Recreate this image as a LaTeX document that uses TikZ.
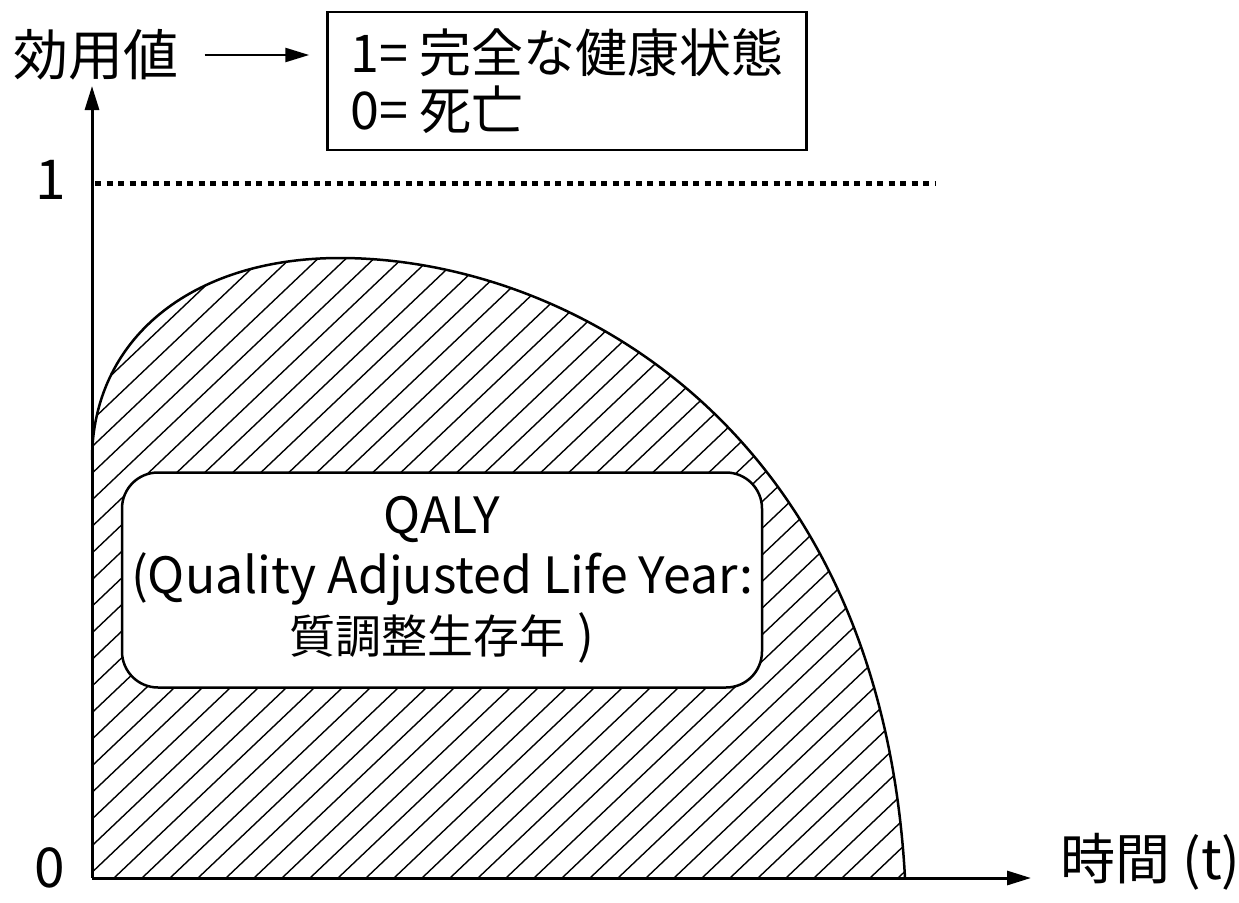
\documentclass[tikz,border=0pt]{standalone}
\usepackage{fontspec}
\setmainfont{Noto Sans CJK JP}
\usetikzlibrary{arrows.meta,positioning,calc}

\begin{document}
\begin{tikzpicture}[x=1pt,y=-1pt,
	axis/.style={line width=3pt,-{Triangle[length=24pt,width=14pt]}},
	lbl/.style={font=\fontsize{55}{57}\selectfont,inner sep=0pt},
	hatch/.style={line width=1.4pt}]
	\useasboundingbox (0,0) rectangle (1239,902);
	\coordinate (o) at (92,878);
	\coordinate (ytip) at (92,86);
	\coordinate (xtip) at (1031,878);
	\coordinate (start) at (92,460);
	\coordinate (peak) at (340,258);
	\coordinate (end) at (905,878);
	\begin{scope}
		\clip (start) .. controls (92,340) and (190,258) .. (peak) .. controls (560,258) and (880,420) .. (end) -- (o) -- cycle;
		\foreach \k in {-24,...,28} {
			\pgfmathsetmacro\c{986.3+26.6*\k}
			\draw[hatch] (80,{\c-76}) -- (920,{\c-874});
		}
	\end{scope}
	\draw[line width=2.5pt] (start) .. controls (92,340) and (190,258) .. (peak) .. controls (560,258) and (880,420) .. (end);
	\draw[line width=5pt,dash pattern=on 6pt off 5.5pt] (95,183) -- (935,183);
	\draw[axis] (o) -- (ytip);
	\draw[axis] (o) -- (xtip);
	\node[lbl] (one) at (51,180) {1};
	\node[lbl] (zero) at (50,868) {0};
	\node[lbl,anchor=west] (time) at (1060,862) {時間 (t)};
	\node[lbl] (util) at (96,55) {効用値};
	\node[draw,line width=2.5pt,lbl,font=\fontsize{52}{57}\selectfont,align=left,minimum width=479pt,minimum height=138pt] (defbox) at (567,81) {1= 完全な健康状態\\0= 死亡};
	\draw[line width=2.5pt,-{Triangle[length=24pt,width=14pt]},shorten <=26pt,shorten >=17pt] (util.east) -- (util.east -| defbox.west);
	\node[draw,line width=2.5pt,fill=white,rounded corners=36pt,minimum width=640pt,minimum height=215pt,align=center,font=\fontsize{50}{60}\selectfont] (qaly) at (442,580) {QALY\\(Quality Adjusted Life Year:\\{\fontsize{46}{60}\selectfont 質調整生存年} )};
\end{tikzpicture}
\end{document}
